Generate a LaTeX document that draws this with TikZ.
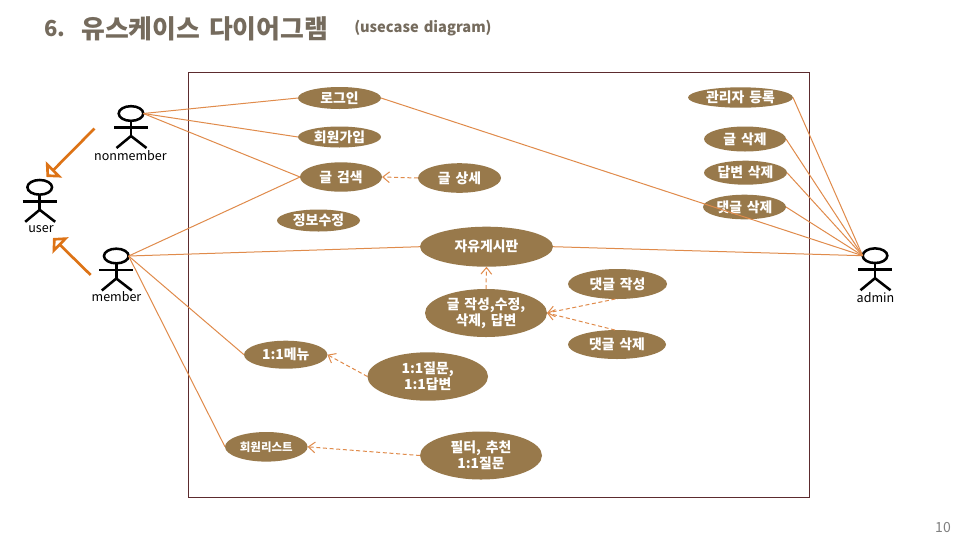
\documentclass[tikz,border=0pt]{standalone}
\usepackage{fontspec}
\setmainfont[WordSpace=1.5]{Noto Sans CJK KR}
\usetikzlibrary{shapes.geometric,arrows.meta}
\definecolor{ucfill}{HTML}{98794B}
\definecolor{ucline}{HTML}{E08B4B}
\definecolor{genarrow}{HTML}{DD7316}
\definecolor{framec}{HTML}{5C2B2E}
\definecolor{titlec}{HTML}{756B5D}
\tikzset{
  uc/.style={ellipse,fill=ucfill,inner sep=0pt,outer sep=0pt,text=white,align=center,font=\fontsize{10.4pt}{12pt}\selectfont\bfseries},
  assoc/.style={draw=ucline,line width=0.75pt},
  dep/.style={draw=ucline,line width=0.75pt,dash pattern=on 3pt off 2pt,-{Straight Barb[length=5pt,width=8pt,line width=0.75pt]}},
  gen/.style={draw=genarrow,line width=2pt,-{Triangle[open,length=8pt,width=17pt,line width=2pt,fill=white]}},
  actorlabel/.style={font=\fontsize{9.4pt}{11pt}\selectfont,text=black,inner sep=0pt},
  actor/.pic={
    \node[ellipse,draw=black,line width=1.9pt,minimum width=18.5pt,minimum height=11pt,inner sep=0pt,outer sep=0pt] (-head) at (0,0) {};
    \draw[black,line width=1.9pt] (-head.south) -- (0,22.5);
    \draw[black,line width=1.9pt] (-17,14) -- (17,14);
    \draw[black,line width=1.9pt] (-14.5,34.5) -- (0,22.5) -- (15.5,34.5);
  }
}
\begin{document}
\begin{tikzpicture}[x=0.75pt,y=-0.75pt]
\useasboundingbox (0,0) rectangle (960,540);
\fill[white] (0,0) rectangle (960,540);
\node[anchor=west,inner sep=0pt,text=titlec,font=\fontsize{16.5pt}{20pt}\selectfont\bfseries] (title) at (44,29) {6.};
\node[anchor=west,inner sep=0pt,text=titlec,font=\fontsize{19.4pt}{22pt}\selectfont\bfseries] (titlek) at (81,29) {유스케이스 다이어그램};
\node[anchor=west,inner sep=0pt,text=titlec,font=\fontsize{11pt}{13pt}\selectfont\bfseries] (titlee) at (354,28) {(usecase diagram)};
\node[inner sep=0pt,text=gray,font=\fontsize{10.5pt}{12pt}\selectfont] (pageno) at (943,527) {10};
\node[draw=framec,line width=0.75pt,minimum width=465.4pt,minimum height=319pt,inner sep=0pt,outer sep=0pt] (frame) at (498.75,284.75) {};
% use cases
\newcommand{\ucase}[6]{\node[uc,minimum width=#4*1.5pt,minimum height=#5*1.5pt] (#1) at (#2,#3) {#6};}
\ucase{login}{339.5}{98}{41.5}{11}{로그인}
\ucase{join}{339.5}{137}{41.5}{10.5}{회원가입}
\ucase{search}{341}{177}{41}{14.7}{글 검색}
\ucase{info}{318.5}{220.5}{41.5}{11}{정보수정}
\ucase{detail}{459.5}{178}{41.5}{14.8}{글 상세}
\ucase{board}{486.5}{246.7}{66.5}{20}{자유게시판}
\ucase{write}{486}{313}{61}{24}{글 작성,수정,\\삭제, 답변}
\ucase{cwrite}{617.5}{284}{49.5}{15}{댓글 작성}
\ucase{cdel}{617}{344.5}{49}{14.5}{댓글 삭제}
\ucase{adreg}{740.5}{97.5}{52.5}{10.2}{관리자 등록}
\ucase{pdel}{745}{139}{41}{12.5}{글 삭제}
\ucase{adel}{745.5}{172.7}{41.5}{12}{답변 삭제}
\ucase{cdela}{744.5}{207}{41.5}{12.3}{댓글 삭제}
\ucase{menu}{285.7}{354.7}{41.7}{14}{1:1메뉴}
\ucase{qna}{427.7}{376.5}{60.3}{24.2}{1:1질문,\\1:1답변}
\ucase{mlist}{266.3}{446.8}{41.3}{14.8}{\fontsize{8.6pt}{10pt}\selectfont 회원리스트}
\ucase{filter}{481}{455.5}{61}{24}{필터, 추천\\1:1질문}
% actors
\pic (nm) at (131,113.5) {actor};
\pic (us) at (39.7,187.3) {actor};
\pic (me) at (116.3,256) {actor};
\pic (ad) at (875,255.7) {actor};
\node[actorlabel] (nmlabel) at (130.5,155.5) {nonmember};
\node[actorlabel] (uslabel) at (41,229.5) {user};
\node[actorlabel] (melabel) at (116.5,297) {member};
\node[actorlabel] (adlabel) at (875.5,297.5) {admin};
% associations
\draw[assoc] (nm-head.east) -- (login.west);
\draw[assoc] (nm-head.east) -- (join.west);
\draw[assoc] (nm-head.east) -- (search.west);
\draw[assoc] (me-head.east) -- (search.west);
\draw[assoc] (me-head.east) -- (board.west);
\draw[assoc] (me-head.east) -- (menu.west);
\draw[assoc] (me-head.east) -- (mlist.west);
\draw[assoc] (login.east) -- (ad-head.west);
\draw[assoc] (board.east) -- (ad-head.west);
\draw[assoc] (adreg.east) -- (ad-head.west);
\draw[assoc] (pdel.east) -- (ad-head.west);
\draw[assoc] (adel.east) -- (ad-head.west);
\draw[assoc] (cdela.east) -- (ad-head.west);
% dependencies
\draw[dep] (detail.west) -- (search.east);
\draw[dep] (write.north) -- (board.south);
\draw[dep] (cwrite.262) -- (write.east);
\draw[dep] (cdel.98) -- (write.east);
\draw[dep] (qna.west) -- (menu.east);
\draw[dep] (filter.west) -- (mlist.east);
% generalisations
\coordinate (nmstart) at (94.5,128.5);
\coordinate (mestart) at (90.7,275);
\coordinate (ustop) at (46.5,177);
\coordinate (usbot) at (53,238);
\draw[gen] (nmstart) -- (ustop);
\draw[gen] (mestart) -- (usbot);
\end{tikzpicture}
\end{document}
